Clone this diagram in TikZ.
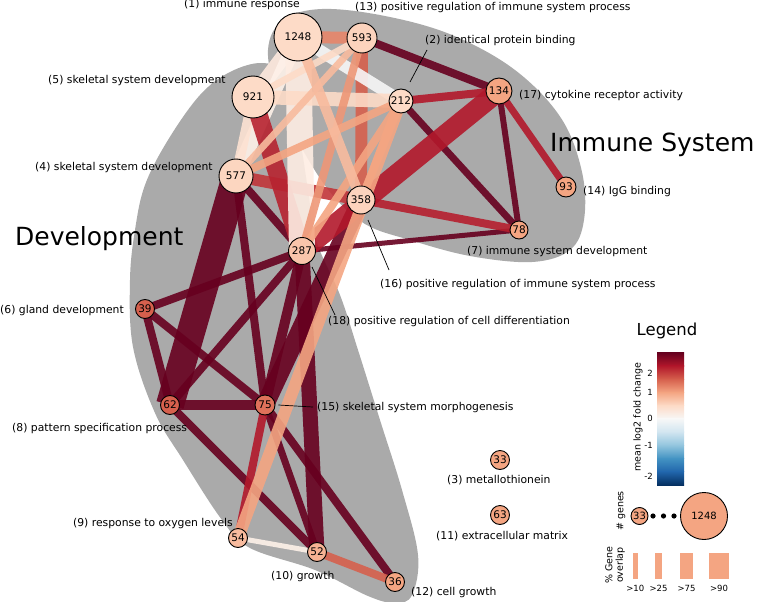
\documentclass[tikz,border=0pt]{standalone}
\usepackage{fontspec}
\setmainfont{DejaVu Sans}
\usetikzlibrary{positioning}
\definecolor{hullgray}{RGB}{170,170,170}
\definecolor{wine}{HTML}{67001F}
\definecolor{crimson}{HTML}{B2182B}
\definecolor{salmon}{HTML}{D6604D}
\definecolor{peach}{HTML}{F4A582}
\definecolor{blush}{HTML}{FDDBC7}
\definecolor{snow}{HTML}{F7F7F7}
\definecolor{skyA}{HTML}{D1E5F0}
\definecolor{skyB}{HTML}{92C5DE}
\definecolor{skyC}{HTML}{4393C3}
\definecolor{skyD}{HTML}{2166AC}
\definecolor{navy}{HTML}{053061}
\pgfdeclarelayer{hull}
\pgfdeclarelayer{links}
\pgfsetlayers{hull,links,main}

\begin{document}
\begin{tikzpicture}[x=1pt, y=-1pt,
    term/.style={circle, draw=black, line width=0.9pt, inner sep=0pt, font=\fontsize{10.5}{12}\selectfont},
    lbl/.style={inner sep=0pt, font=\fontsize{10.8}{13}\selectfont},
    big/.style={inner sep=0pt, font=\fontsize{25}{28}\selectfont},
    small/.style={inner sep=0pt, font=\fontsize{8.5}{10}\selectfont},
    link/.style={opacity=0.9},
    leader/.style={black, line width=0.7pt}]
    \useasboundingbox (0,0) rectangle (763,602);

    % Clusters
    \begin{pgfonlayer}{hull}
    \fill[hullgray] plot[smooth cycle, tension=0.6] coordinates {
        (262,63) (282,75) (298,130) (308,190) (316,240) (340,295) (358,350)
        (380,420) (402,490) (418,555) (412,595) (395,603) (368,596) (315,570)
        (250,548) (222,520) (183,460) (155,413) (133,347) (130,280) (135,230)
        (145,185) (168,140) (200,95) (230,72)};
    \fill[hullgray] plot[smooth cycle, tension=0.6] coordinates {
        (268,50) (283,20) (322,9) (385,16) (452,35) (515,70) (561,118) (582,172)
        (584,220) (570,250) (532,262) (470,256) (410,240) (365,224) (330,192)
        (300,145) (278,100)};
    \end{pgfonlayer}

    % Terms
    \node[term, fill=blush, minimum size=48pt] (n1) at (298,37) {1248};
    \node[term, fill=blush!85!peach, minimum size=30pt] (n13) at (362,38) {593};
    \node[term, fill=blush, minimum size=24pt] (n2) at (401,101) {212};
    \node[term, fill=peach, minimum size=26pt] (n17) at (499,91) {134};
    \node[term, fill=blush, minimum size=42pt] (n5) at (253,97) {921};
    \node[term, fill=blush!90!peach, minimum size=34pt] (n4) at (236,176) {577};
    \node[term, fill=blush!85!peach, minimum size=28pt] (n16) at (361,200) {358};
    \node[term, fill=peach, minimum size=20pt] (n14) at (566,187) {93};
    \node[term, fill=peach, minimum size=18pt] (n7) at (519,230) {78};
    \node[term, fill=blush!60!peach, minimum size=27pt] (n18) at (302,251) {287};
    \node[term, fill=salmon, minimum size=19pt] (n6) at (145,309) {39};
    \node[term, fill=salmon, minimum size=19pt] (n8) at (170,405) {62};
    \node[term, fill=salmon!75!peach, minimum size=20pt] (n15) at (265,405) {75};
    \node[term, fill=peach!60!blush, minimum size=19pt] (n9) at (238,538) {54};
    \node[term, fill=peach!75!blush, minimum size=19pt] (n10) at (317,552) {52};
    \node[term, fill=peach, minimum size=19pt] (n12) at (395,582) {36};
    \node[term, fill=peach, minimum size=19pt] (n3) at (500,460) {33};
    \node[term, fill=peach, minimum size=19pt] (n11) at (500,515) {63};

    % Overlaps
    \begin{pgfonlayer}{links}
    \foreach \a/\b/\w/\c in {
        n13/n17/8/wine, n2/n7/7/wine, n17/n7/6/wine, n18/n7/5/wine,
        n4/n8/28/wine, n4/n18/8/wine, n4/n15/8/wine, n6/n8/8/wine,
        n6/n18/8/wine, n6/n15/8/wine, n8/n15/10/wine, n8/n18/8/wine,
        n8/n10/8/wine, n15/n18/10/wine, n15/n10/7/wine, n15/n12/8/wine,
        n18/n10/15/wine, n15/n16/18/wine,
        n2/n17/8/crimson, n17/n14/7/crimson, n15/n9/8/crimson, n16/n7/8/crimson!90!salmon,
        n4/n16/12/crimson!60!salmon, n17/n18/20/crimson,
        n13/n16/12/salmon, n10/n12/8/salmon, n1/n13/12/salmon!45!peach,
        n1/n5/15/blush!60!white, n1/n4/15/blush!40!white, n5/n4/10/blush!80!white,
        n5/n18/18/crimson!85!salmon, n1/n18/26/blush!50!white,
        n1/n2/12/snow, n2/n5/14/blush, n9/n10/5/blush!40!white,
        n13/n18/8/peach!80!salmon, n2/n18/8/peach, n2/n4/8/peach, n13/n4/7/peach!60!blush,
        n2/n16/8/peach, n13/n5/7/blush, n1/n16/10/peach!60!blush, n2/n9/12/peach}
        \draw[link, \c, line width=\w pt] (\a.center) -- (\b.center);
    \end{pgfonlayer}

    % Labels
    \node[lbl, anchor=base west] (l1) at (184,8) {(1) immune response};
    \node[lbl, anchor=base west] (l13) at (355,11) {(13) positive regulation of immune system process};
    \node[lbl, anchor=base west] (l2) at (425,44) {(2) identical protein binding};
    \node[lbl, anchor=base west] (l17) at (519,99) {(17) cytokine receptor activity};
    \node[lbl, anchor=base west] (l14) at (583,194) {(14) IgG binding};
    \node[lbl, anchor=base west] (l5) at (48,83) {(5) skeletal system development};
    \node[lbl, anchor=base west] (l4) at (35,170) {(4) skeletal system development};
    \node[lbl, anchor=base west] (l7) at (467,254) {(7) immune system development};
    \node[lbl, anchor=base west] (l16) at (380,287) {(16) positive regulation of immune system process};
    \node[lbl, anchor=base west] (l18) at (328,324) {(18) positive regulation of cell differentiation};
    \node[lbl, anchor=base west] (l6) at (0,313) {(6) gland development};
    \node[lbl, anchor=base west] (l15) at (317,410) {(15) skeletal system morphogenesis};
    \node[lbl, anchor=base west] (l8) at (12,431) {(8) pattern specification process};
    \node[lbl, anchor=base east] (l9) at (233,526) {(9) response to oxygen levels};
    \node[lbl, anchor=base west] (l10) at (271,579) {(10) growth};
    \node[lbl, anchor=base west] (l12) at (411,595) {(12) cell growth};
    \node[lbl, anchor=base west] (l3) at (447,483) {(3) metallothionein};
    \node[lbl, anchor=base west] (l11) at (436,539) {(11) extracellular matrix};
    \node[big, anchor=base west] (immune) at (550,151) {Immune System};
    \node[big, anchor=base west] (devel) at (15,245) {Development};

    % Leaders
    \coordinate (t2) at (427,50);   \coordinate (h2) at (410,82);
    \coordinate (t16) at (389,270); \coordinate (h16) at (368,220);
    \coordinate (t18) at (335,315); \coordinate (h18) at (312,267);
    \draw[leader] (t2) -- (h2);
    \draw[leader] (t16) -- (h16);
    \draw[leader] (t18) -- (h18);
    \draw[leader] ([xshift=3pt]n15.east) -- ([xshift=-4pt]l15.west);

    % Legend
    \node[inner sep=0pt, font=\fontsize{16.5}{18}\selectfont] (legend) at (667,331) {Legend};
    \foreach \top/\bot [count=\i] in {wine/crimson, crimson/salmon, salmon/peach, peach/blush,
        blush/snow, snow/skyA, skyA/skyB, skyB/skyC, skyC/skyD, skyD/navy}
        \shade[top color=\top, bottom color=\bot] (657,{353+(\i-1)*13.2-0.3}) rectangle (684,{353+\i*13.2});
    \foreach \v/\y in {2/373, 1/392, 0/418, -1/445, -2/476}
        \node[small, anchor=east] at (653,\y) {\v};
    \node[small, rotate=90, font=\fontsize{9.5}{11}\selectfont] (barlabel) at (638,417) {mean log2 fold change};
    \node[small, rotate=90, font=\fontsize{9.5}{11}\selectfont] (genes) at (621,511) {\# genes};
    \node[term, fill=peach, minimum size=17pt, font=\fontsize{10}{12}\selectfont] (key33) at (639.5,516) {33};
    \foreach \x in {653,663.5,674}
        \fill (\x,516) circle (2.6);
    \node[term, fill=peach, minimum size=47pt, font=\fontsize{10}{12}\selectfont] (key1248) at (704,516) {1248};
    \node[small, rotate=90, align=center, font=\fontsize{9.5}{10.5}\selectfont] (overlap) at (615,565) {\% Gene\\overlap};
    \foreach \l/\r/\t in {633/637.5/>10, 655/662/>25, 680/693/>75, 709/729/>90} {
        \fill[peach] (\l,553) rectangle (\r,579);
        \node[small, anchor=base] at ({(\l+\r)/2},591) {\t};
    }
\end{tikzpicture}
\end{document}
